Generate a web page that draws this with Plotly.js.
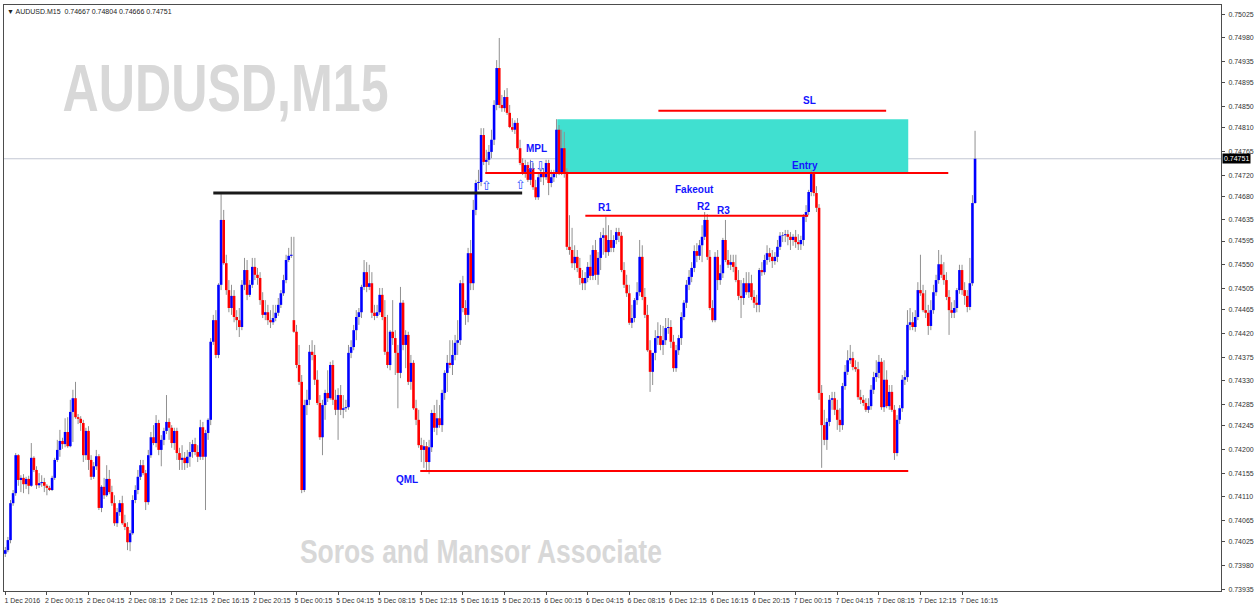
<!DOCTYPE html>
<html><head><meta charset="utf-8">
<script src="https://cdn.plot.ly/plotly-3.0.1.min.js"></script>
<style>html,body{margin:0;padding:0;background:#fff;}#chart{width:1255px;height:604px;}</style>
</head><body><div id="chart"></div>
<script>
const symbol = "AUDUSD.M15";
const watermark = "AUDUSD,M15";
const footer = "Soros and Mansor Associate";

const open = [
0.74002,0.74009,0.74028,0.74098,0.74117,0.74189,0.74142,0.74146,0.74134,0.74144,
0.74131,0.74184,0.74161,0.74132,0.74136,0.74138,0.74131,0.74127,0.74123,0.74146,
0.74180,0.74199,0.74216,0.74210,0.74233,0.74206,0.74271,0.74297,0.74261,0.74258,
0.74250,0.74189,0.74235,0.74180,0.74148,0.74168,0.74187,0.74089,0.74129,0.74113,
0.74144,0.74119,0.74098,0.74060,0.74081,0.74098,0.74060,0.74053,0.74024,0.74041,
0.74104,0.74123,0.74148,0.74170,0.74155,0.74100,0.74189,0.74223,0.74212,0.74250,
0.74199,0.74218,0.74235,0.74252,0.74241,0.74212,0.74235,0.74193,0.74180,0.74184,
0.74174,0.74186,0.74195,0.74210,0.74195,0.74186,0.74242,0.74186,0.74231,0.74256,
0.74404,0.74445,0.74379,0.74512,0.74635,0.74553,0.74502,0.74468,0.74491,0.74451,
0.74445,0.74432,0.74512,0.74540,0.74493,0.74512,0.74546,0.74531,0.74525,0.74483,
0.74455,0.74460,0.74445,0.74441,0.74449,0.74459,0.74474,0.74496,0.74521,0.74559,
0.74567,0.74445,0.74423,0.74360,0.74328,0.74123,0.74284,0.74294,0.74385,0.74379,
0.74332,0.74288,0.74223,0.74284,0.74307,0.74297,0.74360,0.74294,0.74275,0.74303,
0.74275,0.74278,0.74280,0.74383,0.74394,0.74426,0.74451,0.74460,0.74508,0.74536,
0.74508,0.74515,0.74459,0.74453,0.74460,0.74493,0.74451,0.74385,0.74360,0.74423,
0.74411,0.74383,0.74345,0.74478,0.74398,0.74417,0.74328,0.74364,0.74278,0.74256,
0.74208,0.74199,0.74206,0.74176,0.74204,0.74269,0.74241,0.74259,0.74246,0.74307,
0.74345,0.74364,0.74360,0.74379,0.74402,0.74407,0.74515,0.74468,0.74455,0.74572,
0.74515,0.74654,0.74705,0.74707,0.74796,0.74745,0.74749,0.74764,0.74787,0.74853,
0.74923,0.74853,0.74847,0.74868,0.74838,0.74811,0.74806,0.74819,0.74771,0.74743,
0.74726,0.74739,0.74711,0.74733,0.74697,0.74678,0.74716,0.74724,0.74716,0.74743,
0.74705,0.74716,0.74724,0.74806,0.74724,0.74771,0.74726,0.74584,0.74578,0.74553,
0.74565,0.74544,0.74525,0.74515,0.74525,0.74546,0.74529,0.74578,0.74531,0.74563,
0.74601,0.74606,0.74574,0.74597,0.74582,0.74597,0.74612,0.74605,0.74540,0.74512,
0.74496,0.74440,0.74449,0.74483,0.74498,0.74565,0.74489,0.74455,0.74388,0.74347,
0.74383,0.74411,0.74415,0.74398,0.74407,0.74430,0.74432,0.74404,0.74354,0.74388,
0.74411,0.74451,0.74478,0.74512,0.74527,0.74544,0.74576,0.74567,0.74587,0.74603,
0.74635,0.74565,0.74468,0.74445,0.74565,0.74521,0.74534,0.74597,0.74559,0.74550,
0.74555,0.74546,0.74521,0.74491,0.74487,0.74515,0.74498,0.74515,0.74489,0.74478,
0.74474,0.74540,0.74536,0.74559,0.74572,0.74565,0.74557,0.74565,0.74584,0.74605,
0.74606,0.74608,0.74603,0.74597,0.74603,0.74593,0.74589,0.74597,0.74641,0.74650,
0.74688,0.74722,0.74686,0.74658,0.74307,0.74246,0.74218,0.74252,0.74294,0.74297,
0.74275,0.74256,0.74246,0.74320,0.74347,0.74369,0.74373,0.74356,0.74352,0.74299,
0.74294,0.74288,0.74275,0.74282,0.74313,0.74337,0.74345,0.74366,0.74280,0.74332,
0.74282,0.74309,0.74275,0.74193,0.74256,0.74278,0.74332,0.74337,0.74436,0.74441,
0.74432,0.74451,0.74502,0.74496,0.74464,0.74459,0.74434,0.74464,0.74498,0.74521,
0.74551,0.74531,0.74521,0.74489,0.74464,0.74459,0.74468,0.74502,0.74540,0.74502,
0.74491,0.74470,0.74515,0.74667];

const high = [
0.74015,0.74034,0.74104,0.74123,0.74193,0.74191,0.74151,0.74153,0.74148,0.74150,
0.74212,0.74187,0.74168,0.74155,0.74151,0.74146,0.74134,0.74131,0.74150,0.74184,
0.74218,0.74237,0.74222,0.74259,0.74261,0.74294,0.74313,0.74328,0.74267,0.74263,
0.74256,0.74241,0.74244,0.74189,0.74176,0.74199,0.74191,0.74132,0.74146,0.74170,
0.74161,0.74131,0.74113,0.74089,0.74104,0.74112,0.74076,0.74062,0.74047,0.74113,
0.74132,0.74161,0.74180,0.74180,0.74161,0.74199,0.74233,0.74246,0.74265,0.74256,
0.74227,0.74241,0.74303,0.74259,0.74246,0.74241,0.74241,0.74203,0.74208,0.74195,
0.74199,0.74214,0.74218,0.74222,0.74208,0.74256,0.74252,0.74237,0.74259,0.74411,
0.74455,0.74464,0.74515,0.74684,0.74654,0.74569,0.74521,0.74512,0.74502,0.74464,
0.74468,0.74521,0.74563,0.74559,0.74521,0.74563,0.74563,0.74544,0.74536,0.74498,
0.74483,0.74474,0.74464,0.74474,0.74474,0.74487,0.74502,0.74531,0.74569,0.74582,
0.74603,0.74603,0.74436,0.74398,0.74341,0.74294,0.74313,0.74398,0.74407,0.74398,
0.74350,0.74303,0.74294,0.74313,0.74350,0.74366,0.74369,0.74313,0.74316,0.74322,
0.74303,0.74294,0.74398,0.74407,0.74436,0.74464,0.74468,0.74512,0.74559,0.74555,
0.74550,0.74536,0.74474,0.74474,0.74506,0.74506,0.74483,0.74455,0.74426,0.74483,
0.74426,0.74398,0.74508,0.74483,0.74426,0.74423,0.74379,0.74369,0.74294,0.74275,
0.74222,0.74218,0.74214,0.74218,0.74275,0.74284,0.74294,0.74284,0.74313,0.74350,
0.74379,0.74407,0.74407,0.74417,0.74445,0.74521,0.74529,0.74483,0.74582,0.74597,
0.74673,0.74711,0.74730,0.74809,0.74809,0.74768,0.74777,0.74806,0.74862,0.74938,
0.74980,0.74872,0.74881,0.74885,0.74853,0.74828,0.74824,0.74828,0.74787,0.74752,
0.74749,0.74745,0.74749,0.74743,0.74711,0.74726,0.74733,0.74733,0.74749,0.74749,
0.74730,0.74730,0.74826,0.74815,0.74806,0.74802,0.74733,0.74644,0.74620,0.74587,
0.74578,0.74563,0.74540,0.74536,0.74555,0.74569,0.74587,0.74597,0.74574,0.74612,
0.74620,0.74641,0.74625,0.74616,0.74606,0.74620,0.74620,0.74612,0.74555,0.74531,
0.74512,0.74474,0.74487,0.74517,0.74597,0.74587,0.74506,0.74474,0.74407,0.74379,
0.74426,0.74441,0.74436,0.74434,0.74449,0.74449,0.74445,0.74417,0.74398,0.74417,
0.74460,0.74483,0.74521,0.74540,0.74555,0.74587,0.74591,0.74597,0.74625,0.74650,
0.74646,0.74578,0.74483,0.74574,0.74578,0.74550,0.74601,0.74635,0.74578,0.74569,
0.74569,0.74569,0.74540,0.74521,0.74525,0.74536,0.74536,0.74531,0.74502,0.74493,
0.74544,0.74555,0.74569,0.74587,0.74582,0.74578,0.74574,0.74597,0.74612,0.74612,
0.74616,0.74616,0.74612,0.74608,0.74616,0.74608,0.74605,0.74646,0.74663,0.74692,
0.74730,0.74728,0.74699,0.74665,0.74322,0.74275,0.74259,0.74303,0.74309,0.74309,
0.74294,0.74278,0.74326,0.74360,0.74388,0.74398,0.74385,0.74369,0.74366,0.74313,
0.74303,0.74297,0.74297,0.74322,0.74347,0.74369,0.74379,0.74373,0.74369,0.74350,
0.74322,0.74322,0.74284,0.74265,0.74284,0.74341,0.74350,0.74464,0.74468,0.74460,
0.74464,0.74517,0.74569,0.74512,0.74502,0.74474,0.74483,0.74512,0.74531,0.74578,
0.74569,0.74555,0.74536,0.74502,0.74479,0.74483,0.74506,0.74550,0.74550,0.74517,
0.74502,0.74563,0.74682,0.74804];

const low = [
0.73996,0.74005,0.74022,0.74093,0.74112,0.74131,0.74119,0.74117,0.74125,0.74115,
0.74129,0.74157,0.74125,0.74127,0.74129,0.74119,0.74113,0.74121,0.74121,0.74142,
0.74176,0.74186,0.74201,0.74204,0.74203,0.74204,0.74214,0.74258,0.74248,0.74235,
0.74176,0.74180,0.74161,0.74142,0.74144,0.74161,0.74085,0.74081,0.74106,0.74110,
0.74115,0.74093,0.74055,0.74053,0.74074,0.74057,0.74047,0.74009,0.74007,0.74038,
0.74098,0.74115,0.74142,0.74151,0.74085,0.74095,0.74184,0.74208,0.74204,0.74189,
0.74168,0.74208,0.74229,0.74218,0.74203,0.74199,0.74180,0.74161,0.74161,0.74161,
0.74165,0.74167,0.74184,0.74189,0.74176,0.74180,0.74180,0.74085,0.74218,0.74246,
0.74398,0.74373,0.74373,0.74502,0.74550,0.74493,0.74460,0.74455,0.74441,0.74426,
0.74413,0.74426,0.74502,0.74483,0.74489,0.74506,0.74521,0.74512,0.74474,0.74449,
0.74445,0.74436,0.74430,0.74436,0.74443,0.74453,0.74468,0.74491,0.74515,0.74555,
0.74563,0.74421,0.74354,0.74322,0.74117,0.74119,0.74265,0.74284,0.74369,0.74322,
0.74284,0.74218,0.74189,0.74256,0.74290,0.74294,0.74284,0.74265,0.74218,0.74265,
0.74259,0.74271,0.74275,0.74373,0.74388,0.74407,0.74436,0.74449,0.74502,0.74498,
0.74502,0.74449,0.74445,0.74449,0.74455,0.74445,0.74379,0.74354,0.74350,0.74398,
0.74341,0.74278,0.74335,0.74388,0.74354,0.74322,0.74313,0.74275,0.74246,0.74203,
0.74176,0.74165,0.74157,0.74153,0.74195,0.74233,0.74227,0.74241,0.74233,0.74294,
0.74309,0.74354,0.74341,0.74369,0.74379,0.74398,0.74460,0.74436,0.74441,0.74502,
0.74502,0.74644,0.74692,0.74699,0.74739,0.74726,0.74739,0.74752,0.74777,0.74843,
0.74847,0.74840,0.74840,0.74834,0.74809,0.74802,0.74798,0.74768,0.74739,0.74720,
0.74715,0.74707,0.74701,0.74692,0.74673,0.74673,0.74707,0.74701,0.74711,0.74682,
0.74697,0.74707,0.74715,0.74720,0.74720,0.74715,0.74578,0.74569,0.74544,0.74540,
0.74536,0.74512,0.74502,0.74502,0.74517,0.74521,0.74521,0.74521,0.74512,0.74540,
0.74569,0.74563,0.74567,0.74574,0.74574,0.74589,0.74593,0.74536,0.74506,0.74489,
0.74436,0.74430,0.74441,0.74474,0.74491,0.74483,0.74449,0.74385,0.74309,0.74322,
0.74369,0.74398,0.74388,0.74379,0.74398,0.74419,0.74392,0.74347,0.74347,0.74379,
0.74398,0.74445,0.74468,0.74502,0.74517,0.74536,0.74555,0.74559,0.74555,0.74597,
0.74559,0.74464,0.74441,0.74441,0.74502,0.74512,0.74525,0.74555,0.74544,0.74540,
0.74536,0.74517,0.74483,0.74449,0.74474,0.74493,0.74487,0.74483,0.74468,0.74460,
0.74460,0.74529,0.74531,0.74550,0.74555,0.74544,0.74550,0.74555,0.74578,0.74593,
0.74593,0.74587,0.74578,0.74586,0.74582,0.74578,0.74578,0.74586,0.74631,0.74644,
0.74680,0.74680,0.74650,0.74294,0.74165,0.74208,0.74199,0.74244,0.74275,0.74265,
0.74237,0.74233,0.74237,0.74313,0.74341,0.74362,0.74350,0.74347,0.74294,0.74286,
0.74282,0.74271,0.74269,0.74275,0.74305,0.74328,0.74335,0.74275,0.74271,0.74278,
0.74275,0.74271,0.74180,0.74187,0.74248,0.74271,0.74322,0.74328,0.74426,0.74426,
0.74423,0.74445,0.74491,0.74460,0.74449,0.74417,0.74426,0.74457,0.74491,0.74514,
0.74525,0.74512,0.74483,0.74417,0.74449,0.74449,0.74460,0.74495,0.74493,0.74474,
0.74460,0.74464,0.74510,0.74666];

const close = [
0.74009,0.74028,0.74098,0.74117,0.74189,0.74142,0.74146,0.74134,0.74144,0.74131,
0.74184,0.74161,0.74132,0.74136,0.74138,0.74131,0.74127,0.74123,0.74146,0.74180,
0.74199,0.74216,0.74210,0.74233,0.74206,0.74271,0.74297,0.74261,0.74258,0.74250,
0.74189,0.74235,0.74180,0.74148,0.74168,0.74187,0.74089,0.74129,0.74113,0.74144,
0.74119,0.74098,0.74060,0.74081,0.74098,0.74060,0.74053,0.74024,0.74041,0.74104,
0.74123,0.74148,0.74170,0.74155,0.74100,0.74189,0.74223,0.74212,0.74250,0.74199,
0.74218,0.74235,0.74252,0.74241,0.74212,0.74235,0.74193,0.74180,0.74184,0.74174,
0.74186,0.74195,0.74210,0.74195,0.74186,0.74242,0.74186,0.74231,0.74256,0.74404,
0.74445,0.74379,0.74512,0.74635,0.74553,0.74502,0.74468,0.74491,0.74451,0.74445,
0.74432,0.74512,0.74540,0.74493,0.74512,0.74546,0.74531,0.74525,0.74483,0.74455,
0.74460,0.74445,0.74441,0.74449,0.74459,0.74474,0.74496,0.74521,0.74559,0.74567,
0.74569,0.74423,0.74360,0.74328,0.74123,0.74284,0.74294,0.74385,0.74379,0.74332,
0.74288,0.74223,0.74284,0.74307,0.74297,0.74360,0.74294,0.74275,0.74303,0.74275,
0.74278,0.74280,0.74383,0.74394,0.74426,0.74451,0.74460,0.74508,0.74536,0.74508,
0.74515,0.74459,0.74453,0.74460,0.74493,0.74451,0.74385,0.74360,0.74423,0.74411,
0.74383,0.74345,0.74478,0.74398,0.74417,0.74328,0.74364,0.74278,0.74256,0.74208,
0.74199,0.74206,0.74176,0.74204,0.74269,0.74241,0.74259,0.74246,0.74307,0.74345,
0.74364,0.74360,0.74379,0.74402,0.74407,0.74515,0.74468,0.74455,0.74572,0.74515,
0.74654,0.74705,0.74707,0.74796,0.74745,0.74749,0.74764,0.74787,0.74853,0.74923,
0.74853,0.74847,0.74868,0.74838,0.74811,0.74806,0.74819,0.74771,0.74743,0.74726,
0.74739,0.74711,0.74733,0.74697,0.74678,0.74716,0.74724,0.74716,0.74743,0.74705,
0.74716,0.74724,0.74806,0.74724,0.74771,0.74726,0.74584,0.74578,0.74553,0.74565,
0.74544,0.74525,0.74515,0.74525,0.74546,0.74529,0.74578,0.74531,0.74563,0.74601,
0.74606,0.74574,0.74597,0.74582,0.74597,0.74612,0.74605,0.74540,0.74512,0.74496,
0.74440,0.74449,0.74483,0.74498,0.74565,0.74489,0.74455,0.74388,0.74347,0.74383,
0.74411,0.74415,0.74398,0.74407,0.74430,0.74432,0.74404,0.74354,0.74388,0.74411,
0.74451,0.74478,0.74512,0.74527,0.74544,0.74576,0.74567,0.74587,0.74603,0.74635,
0.74565,0.74468,0.74445,0.74565,0.74521,0.74534,0.74597,0.74559,0.74550,0.74555,
0.74546,0.74521,0.74491,0.74487,0.74515,0.74498,0.74515,0.74489,0.74478,0.74474,
0.74540,0.74536,0.74559,0.74572,0.74565,0.74557,0.74565,0.74584,0.74605,0.74606,
0.74608,0.74603,0.74597,0.74603,0.74593,0.74589,0.74597,0.74641,0.74650,0.74688,
0.74722,0.74686,0.74658,0.74307,0.74246,0.74218,0.74252,0.74294,0.74297,0.74275,
0.74256,0.74246,0.74320,0.74347,0.74369,0.74373,0.74356,0.74352,0.74299,0.74294,
0.74288,0.74275,0.74282,0.74313,0.74337,0.74345,0.74366,0.74280,0.74332,0.74282,
0.74309,0.74275,0.74193,0.74256,0.74278,0.74332,0.74337,0.74436,0.74441,0.74432,
0.74451,0.74502,0.74496,0.74464,0.74459,0.74434,0.74464,0.74498,0.74521,0.74551,
0.74531,0.74521,0.74489,0.74464,0.74459,0.74468,0.74502,0.74540,0.74502,0.74491,
0.74470,0.74515,0.74667,0.74751];

// time axis: one label every 16 bars (4 hours of M15)
const xTickIndex = [0,16,32,48,64,80,96,112,128,144,160,176,192,208,224,240,256,272,288,304,320,336,352,368];
const xTickLabels = ["1 Dec 2016","2 Dec 00:15","2 Dec 04:15","2 Dec 08:15","2 Dec 12:15","2 Dec 16:15","2 Dec 20:15",
  "5 Dec 00:15","5 Dec 04:15","5 Dec 08:15","5 Dec 12:15","5 Dec 16:15","5 Dec 20:15",
  "6 Dec 00:15","6 Dec 04:15","6 Dec 08:15","6 Dec 12:15","6 Dec 16:15","6 Dec 20:15",
  "7 Dec 00:15","7 Dec 04:15","7 Dec 08:15","7 Dec 12:15","7 Dec 16:15"];
const yTickValues = [0.75025,0.74980,0.74935,0.74895,0.74850,0.74810,0.74765,0.74720,0.74680,0.74635,0.74595,0.74550,0.74505,
  0.74465,0.74420,0.74375,0.74330,0.74285,0.74245,0.74200,0.74155,0.74110,0.74065,0.74025,0.73980,0.73935];

// drawn analysis levels (price) and their bar spans
const levelSL = 0.74842, slFrom = 251.2, slTo = 338.8;
const levelEntry = 0.74724, entryFrom = 184.6, entryTo = 362.7;
const zoneTop = 0.74826, zoneFrom = 212.3, zoneTo = 347.3;
const levelR = 0.74643, rFrom = 223.1, rTo = 308.8;
const levelMPL = 0.74686, mplFrom = 80, mplTo = 198.8;
const levelQML = 0.74159, qmlFrom = 159.6, qmlTo = 347.3;

const labels = [
  {t:"MPL", x:204.2, y:0.74770},
  {t:"Fakeout", x:265.0, y:0.74692},
  {t:"R1", x:230.4, y:0.74658},
  {t:"R2", x:268.5, y:0.74660},
  {t:"R3", x:276.2, y:0.74652},
  {t:"Entry", x:307.7, y:0.74739},
  {t:"SL", x:309.2, y:0.74862},
  {t:"QML", x:154.6, y:0.74142}
];
const arrows = [
  {t:"\u21E7", x:185.0, y:0.74701},
  {t:"\u21E7", x:198.1, y:0.74703},
  {t:"\u21E9", x:202.3, y:0.74737},
  {t:"\u21E9", x:205.8, y:0.74737}
];

const n = close.length;
const wx = [], wy = [], ux = [], uy = [], dx = [], dy = [];
for (let i = 0; i < n; i++) {
  wx.push(i, i, null); wy.push(low[i], high[i], null);
  if (close[i] >= open[i]) { ux.push(i, i, null); uy.push(open[i], close[i], null); }
  else { dx.push(i, i, null); dy.push(open[i], close[i], null); }
}
const wicks = {type:"scatter", mode:"lines", x:wx, y:wy, line:{color:"#909090", width:1}, hoverinfo:"skip", showlegend:false};
const bullBodies = {type:"scatter", mode:"lines", x:ux, y:uy, line:{color:"#0000ff", width:2.6}, hoverinfo:"skip", showlegend:false};
const bearBodies = {type:"scatter", mode:"lines", x:dx, y:dy, line:{color:"#ff0000", width:2.6}, hoverinfo:"skip", showlegend:false};

const last = n - 1;
const f5 = v => v.toFixed(5);
const tickFont = {family:"Liberation Sans, Arial, sans-serif", size:7, color:"#333333"};
const bigFont = "Liberation Sans, Arial, sans-serif";

const shapes = [
  {type:"rect", xref:"x", yref:"y", x0:zoneFrom, x1:zoneTo, y0:levelEntry, y1:zoneTop, fillcolor:"#40e0d0", line:{width:0}, layer:"below"},
  {type:"line", xref:"paper", yref:"y", x0:0, x1:1, y0:close[last], y1:close[last], line:{color:"#c3c7d3", width:1}, layer:"below"},
  {type:"line", xref:"x", yref:"y", x0:mplFrom, x1:mplTo, y0:levelMPL, y1:levelMPL, line:{color:"#1a1a1a", width:3}},
  {type:"line", xref:"x", yref:"y", x0:slFrom, x1:slTo, y0:levelSL, y1:levelSL, line:{color:"#ff0000", width:2}},
  {type:"line", xref:"x", yref:"y", x0:entryFrom, x1:entryTo, y0:levelEntry, y1:levelEntry, line:{color:"#ff0000", width:2}},
  {type:"line", xref:"x", yref:"y", x0:rFrom, x1:rTo, y0:levelR, y1:levelR, line:{color:"#ff0000", width:2}},
  {type:"line", xref:"x", yref:"y", x0:qmlFrom, x1:qmlTo, y0:levelQML, y1:levelQML, line:{color:"#ff0000", width:2}}
];

const annotations = [
  {xref:"paper", yref:"paper", x:0, y:1, xanchor:"left", yanchor:"top", xshift:1, yshift:-1, showarrow:false,
   text:"\u25BC " + symbol + "  " + f5(open[last]) + " " + f5(high[last]) + " " + f5(low[last]) + " " + f5(close[last]),
   font:{family:"Liberation Sans, Arial, sans-serif", size:7, color:"#222"}},
  {xref:"paper", yref:"paper", x:0.1824, y:0.858, xanchor:"center", yanchor:"middle", showarrow:false,
   text:"<b>" + watermark + "</b>", font:{family:bigFont, size:66, color:"#d8d8d8"}},
  {xref:"paper", yref:"paper", x:0.392, y:0.0666, xanchor:"center", yanchor:"middle", showarrow:false,
   text:"<b>" + footer + "</b>", font:{family:bigFont, size:33, color:"#d8d8d8"}},
  {xref:"paper", yref:"y", x:1, y:close[last], xanchor:"left", yanchor:"middle", xshift:1, showarrow:false,
   text:f5(close[last]), bgcolor:"#000000", borderpad:1, font:{family:"Liberation Sans, Arial, sans-serif", size:7, color:"#ffffff"}}
];
labels.forEach(l => annotations.push({xref:"x", yref:"y", x:l.x, y:l.y, showarrow:false, text:"<b>" + l.t + "</b>",
  font:{family:"Liberation Sans, Arial, sans-serif", size:10, color:"#1414ff"}}));
arrows.forEach(a => annotations.push({xref:"x", yref:"y", x:a.x, y:a.y, showarrow:false, text:a.t,
  font:{family:"DejaVu Sans, sans-serif", size:13, color:"#3355ff"}}));

const layout = {
  width:1255, height:604,
  margin:{l:4, r:34, t:5, b:13},
  paper_bgcolor:"#ffffff", plot_bgcolor:"#ffffff",
  showlegend:false,
  xaxis:{range:[-0.5, 467.6], showgrid:false, zeroline:false, showline:true, linecolor:"#4d4d4d", linewidth:1, mirror:true,
    ticks:"outside", ticklen:3, tickcolor:"#4d4d4d", tickvals:xTickIndex, ticktext:xTickLabels, tickfont:tickFont,
    ticklabelshift:17, ticklabelstandoff:0, fixedrange:true},
  yaxis:{side:"right", range:[0.739315, 0.750425], showgrid:false, zeroline:false, showline:true, linecolor:"#4d4d4d", linewidth:1, mirror:true,
    ticks:"outside", ticklen:3, tickcolor:"#4d4d4d", tickvals:yTickValues, ticktext:yTickValues.map(f5), tickfont:tickFont,
    ticklabelstandoff:2, fixedrange:true},
  shapes:shapes,
  annotations:annotations
};

// condensed look of the MT4 watermark texts: squeeze the text to the reference width
const squeeze = {};
squeeze[watermark] = 326;
squeeze[footer] = 362;

Plotly.newPlot("chart", [wicks, bullBodies, bearBodies], layout, {staticPlot:true, displayModeBar:false}).then(gd => {
  gd.querySelectorAll("text.annotation-text").forEach(t => {
    const w = squeeze[t.textContent];
    if (w) { t.setAttribute("textLength", w); t.setAttribute("lengthAdjust", "spacingAndGlyphs"); }
  });
});
</script>
</body></html>
